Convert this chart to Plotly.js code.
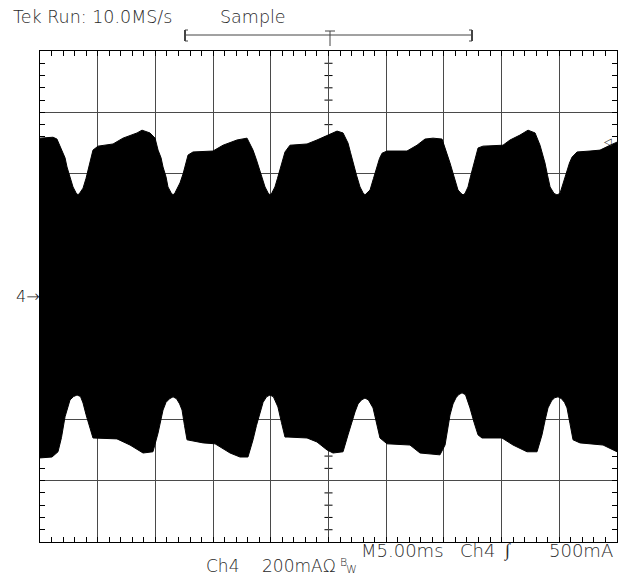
<!DOCTYPE html>
<html>
<head>
<meta charset="utf-8">
<script src="https://cdn.plot.ly/plotly-3.0.1.min.js"></script>
<style>html,body{margin:0;padding:0;background:#fff;}#chart{width:629px;height:576px;}</style>
</head>
<body>
<div id="chart"></div>
<script>
// Time (ms, 5 ms/div over 10 divisions) and Ch4 current (mA, 200 mA/div)
const upperT = [0,1.13,1.47,1.91,2.17,2.34,2.60,2.86,3.12,3.29,3.46,3.73,3.99,4.16,4.42,4.59,5.03,6.33,7.19,8.41,8.84,9.53,9.97,10.23,10.49,10.66,10.92,11.09,11.36,11.53,11.70,11.96,12.13,12.40,12.57,12.83,13.26,14.99,15.86,17.07,17.94,18.46,18.76,19.06,19.33,19.50,19.76,19.93,20.10,20.36,20.58,20.80,21.02,21.23,21.66,23.14,24.00,25.13,25.74,26.26,26.69,26.90,27.12,27.43,27.73,27.99,28.16,28.33,28.60,28.90,29.20,29.42,29.64,30.07,31.80,32.67,33.36,34.06,34.84,35.27,35.53,35.79,36.05,36.22,36.49,36.66,36.83,37.09,37.30,37.52,37.74,37.96,38.39,40.12,40.73,41.59,42.29,42.90,43.33,43.55,43.76,43.98,44.20,44.54,44.80,45.06,45.24,45.45,45.67,45.88,46.10,46.54,47.66,48.53,49.40,50.0];
const upperI = [516,519,513,477,452,422,390,357,338,331,338,353,385,412,450,477,490,497,516,533,542,533,516,477,452,422,390,357,338,331,338,357,370,400,422,461,471,474,493,510,516,477,445,412,380,357,338,331,338,357,385,412,445,471,493,497,510,529,539,533,500,470,435,395,357,338,331,338,347,385,422,450,467,474,474,493,513,516,513,467,435,402,370,347,336,331,336,357,390,422,455,484,490,493,510,526,542,533,493,465,435,395,357,336,331,336,357,385,412,435,454,471,474,477,493,503];
const lowerT = [0,1.04,1.56,1.86,2.17,2.39,2.60,2.91,3.21,3.51,3.73,3.99,4.33,4.59,6.67,7.80,8.93,9.79,10.23,10.45,10.66,10.92,11.23,11.53,11.83,12.10,12.31,12.52,12.74,14.13,15.17,16.47,17.33,18.02,18.46,18.76,19.06,19.33,19.63,19.93,20.23,20.62,20.92,21.23,21.49,23.14,24.00,24.87,25.39,26.26,26.69,27.00,27.30,27.56,27.86,28.16,28.46,28.86,29.16,29.46,30.07,32.06,32.93,34.66,35.10,35.53,35.79,36.05,36.27,36.57,36.87,37.26,37.61,37.96,38.30,40.03,40.99,42.20,43.07,43.50,43.76,44.02,44.33,44.59,44.89,45.19,45.45,45.67,45.93,46.19,46.79,48.79,50.0];
const lowerI = [-526,-523,-506,-460,-392,-360,-337,-326,-321,-326,-347,-385,-425,-461,-464,-484,-510,-506,-445,-405,-370,-345,-333,-327,-333,-350,-370,-420,-467,-477,-480,-510,-523,-523,-467,-420,-379,-345,-327,-321,-327,-360,-410,-458,-458,-461,-474,-500,-510,-506,-451,-410,-376,-350,-337,-331,-337,-363,-410,-461,-480,-484,-510,-516,-484,-386,-350,-330,-320,-314,-320,-363,-410,-451,-461,-461,-484,-506,-506,-451,-405,-363,-340,-330,-327,-333,-345,-363,-415,-467,-477,-484,-506];

const headerLeft = "Tek Run: 10.0MS/s";
const headerMode = "Sample";
const timebase = "M5.00ms";
const trigSrc = "Ch4";
const trigSlope = "\u222B";
const trigLevel = "500mA";
const chScaleName = "Ch4";
const chScale = "200mA\u03A9";
const bwMark = ["B", "W"];
const chMarker = "4\u2192";

// plot area in pixels
const L = 40, R = 617, T = 51, B = 542;
const px = v => (v - L) / (R - L);
const py = v => (B - v) / (B - T);

const font = {family: "DejaVu Sans", size: 18, color: "#2a2a2a", weight: 200};

const traces = [
  {x: lowerT, y: lowerI, type: "scatter", mode: "lines", line: {color: "#000", width: 1}, hoverinfo: "skip"},
  {x: upperT, y: upperI, type: "scatter", mode: "lines", fill: "tonexty", fillcolor: "#000", line: {color: "#000", width: 1}, hoverinfo: "skip"}
];

const shapes = [];
// centre crosshair minor ticks
for (let k = -20; k <= 20; k++) {
  if (k % 5 === 0) continue;
  shapes.push({type: "line", layer: "below", xref: "x", yref: "y", x0: 25 - 0.35, x1: 25 + 0.35, y0: k * 40, y1: k * 40, line: {color: "#000", width: 1}});
}
for (let k = 0; k <= 50; k++) {
  if (k % 5 === 0) continue;
  shapes.push({type: "line", layer: "below", xref: "x", yref: "y", x0: k, x1: k, y0: -13, y1: 13, line: {color: "#000", width: 1}});
}
// trigger position bracket above the graticule
const gray = "#444";
const seg = (x0, y0, x1, y1, w) => shapes.push({type: "line", xref: "paper", yref: "paper", x0: px(x0), x1: px(x1), y0: py(y0), y1: py(y1), line: {color: gray, width: w || 1}});
seg(185, 35, 472, 35);
seg(185, 30, 185, 41, 2); seg(185, 30, 188, 30); seg(185, 41, 188, 41);
seg(472, 30, 472, 41, 2); seg(469, 30, 472, 30); seg(469, 41, 472, 41);
seg(325, 31, 335, 31); seg(330, 31, 330, 46);

function ann(text, x, y, size, anchor, color) {
  return {text: text, xref: "paper", yref: "paper", x: px(x), y: py(y), xanchor: anchor || "left", yanchor: "middle",
          showarrow: false, font: Object.assign({}, font, size ? {size: size} : {}, color ? {color: color} : {}), borderpad: 0};
}
const annotations = [
  ann(headerLeft, 12, 17, 17.5),
  ann(headerMode, 219, 17, 17.5),
  ann(timebase, 360, 550),
  ann(trigSrc, 459, 550),
  ann(trigSlope, 503, 550),
  ann(trigLevel, 548, 550),
  ann(chScaleName, 205, 566, 17),
  ann(chScale, 261, 566, 17),
  ann(bwMark[0], 339, 562, 11),
  ann(bwMark[1], 345, 569, 11),
  ann(chMarker, 15, 296, 16, "left", "#111"),
  ann("\u25C1", 603, 142, 10)
];

const axisBase = {showgrid: true, gridcolor: "#4a4a4a", gridwidth: 1, zeroline: false, showline: true, linecolor: "#000", linewidth: 1,
  mirror: "allticks", ticks: "inside", ticklen: 5, tickcolor: "#000", showticklabels: false, fixedrange: true};

const layout = {
  width: 629, height: 576,
  margin: {l: L, r: 629 - R, t: T, b: 576 - B, pad: 0},
  paper_bgcolor: "#fff", plot_bgcolor: "#fff", showlegend: false,
  xaxis: Object.assign({}, axisBase, {range: [0, 50], tick0: 0, dtick: 5,
    minor: {tick0: 0, dtick: 1, ticks: "inside", ticklen: 5, tickcolor: "#000", showgrid: false}}),
  yaxis: Object.assign({}, axisBase, {range: [-800, 800], tick0: 0, dtick: 200,
    minor: {tick0: 0, dtick: 40, ticks: "inside", ticklen: 5, tickcolor: "#000", showgrid: false}}),
  shapes: shapes,
  annotations: annotations
};

Plotly.newPlot("chart", traces, layout, {staticPlot: true, displayModeBar: false});
</script>
</body>
</html>
